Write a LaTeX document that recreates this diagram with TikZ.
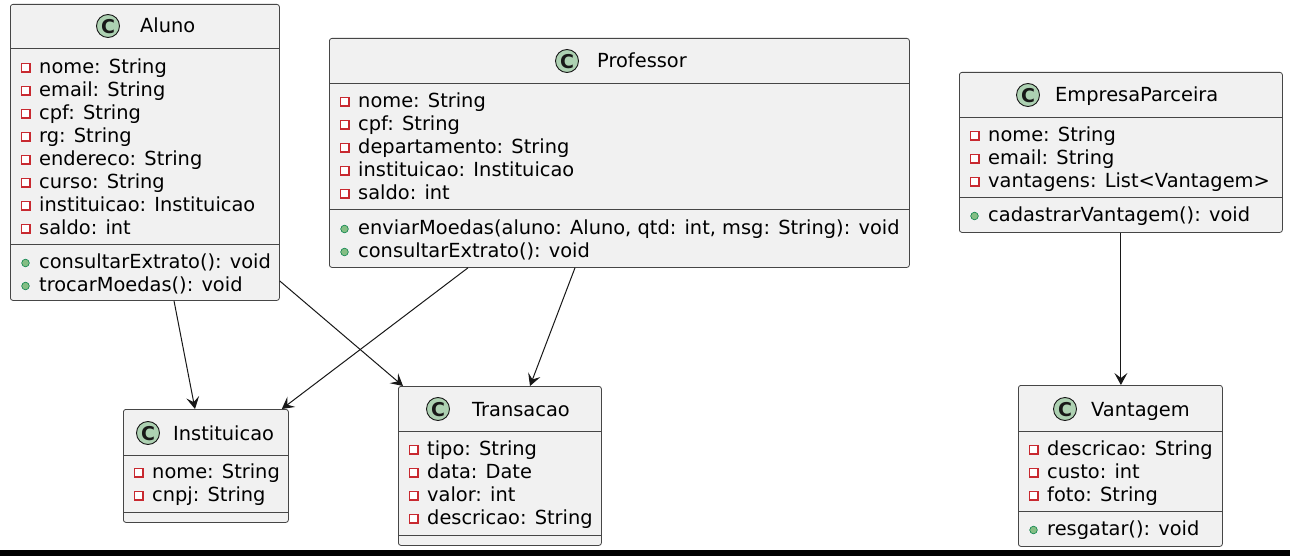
\documentclass[tikz,border=0pt]{standalone}
\usepackage{fontspec}
\setmainfont{DejaVu Sans}
\usetikzlibrary{arrows.meta,calc}
\definecolor{boxfill}{HTML}{F1F1F1}
\definecolor{boxline}{HTML}{181818}
\definecolor{iconfill}{HTML}{ADD1B2}
\definecolor{privred}{HTML}{C82930}
\definecolor{pubfill}{HTML}{84BE84}
\definecolor{publine}{HTML}{038048}
% private member row: name, box left x, row centre y, text
\newcommand{\prow}[4]{%
  \draw[privsq] ({#2+11.5},{#3-3.5}) rectangle ++(8.5,8.5);
  \node[mem] (#1) at ({#2+29},{#3+6.5}) {#4};}
% public member row
\newcommand{\urow}[4]{%
  \draw[pubdot] ({#2+15.5},{#3+1}) circle (3.8);
  \node[mem] (#1) at ({#2+29},{#3+6.5}) {#4};}
% class title: name, icon x, y, title x, text
\newcommand{\ctitle}[5]{%
  \draw[cicon] (#2,#3) circle (11.5);
  \node[cglyph] (#1-c) at (#2,{#3+0.5}) {C};
  \node[mem] (#1) at (#4,{#3+7}) {#5};}
\begin{document}
\begin{tikzpicture}[x=1pt,y=-1pt,
  classbox/.style={draw=boxline!80, fill=boxfill, line width=0.8pt, rounded corners=2.5pt, inner sep=0pt, anchor=north west},
  sepline/.style={draw=boxline!80, line width=0.8pt},
  mem/.style={anchor=base west, inner sep=0pt, font=\fontsize{19.4}{23}\selectfont},
  cglyph/.style={inner sep=0pt, text=boxline, font=\fontsize{19}{19}\selectfont\bfseries},
  cicon/.style={draw=boxline, fill=iconfill, line width=0.9pt},
  privsq/.style={draw=privred, fill=white, line width=1.1pt},
  pubdot/.style={draw=publine, fill=pubfill, line width=0.6pt},
  arr/.style={draw=boxline, line width=1pt, -{Stealth[length=12pt,width=13pt,inset=5pt]}}
]
\fill[white] (0,0) rectangle (1290,556);
\useasboundingbox (0,0) rectangle (1290,556);

% ---------- Aluno ----------
\node[classbox, minimum width=269pt, minimum height=296pt] (aluno) at (10,4) {};
\draw[sepline] (aluno.west |- 0,48) -- (aluno.east |- 0,48);
\draw[sepline] (aluno.west |- 0,244) -- (aluno.east |- 0,244);
\ctitle{alunoT}{108}{26}{140}{Aluno}
\prow{a1}{10}{67}{nome: String}
\prow{a2}{10}{90}{email: String}
\prow{a3}{10}{113}{cpf: String}
\prow{a4}{10}{136}{rg: String}
\prow{a5}{10}{159}{endereco: String}
\prow{a6}{10}{182}{curso: String}
\prow{a7}{10}{205}{instituicao: Instituicao}
\prow{a8}{10}{228}{saldo: int}
\urow{am1}{10}{262}{consultarExtrato(): void}
\urow{am2}{10}{285}{trocarMoedas(): void}

% ---------- Professor ----------
\node[classbox, minimum width=580pt, minimum height=229pt] (prof) at (329,38) {};
\draw[sepline] (prof.west |- 0,83) -- (prof.east |- 0,83);
\draw[sepline] (prof.west |- 0,209) -- (prof.east |- 0,209);
\ctitle{profT}{567}{61}{597}{Professor}
\prow{p1}{329}{101}{nome: String}
\prow{p2}{329}{124}{cpf: String}
\prow{p3}{329}{147}{departamento: String}
\prow{p4}{329}{170}{instituicao: Instituicao}
\prow{p5}{329}{193}{saldo: int}
\urow{pm1}{329}{228}{enviarMoedas(aluno: Aluno, qtd: int, msg: String): void}
\urow{pm2}{329}{251}{consultarExtrato(): void}

% ---------- EmpresaParceira ----------
\node[classbox, minimum width=323pt, minimum height=160pt] (emp) at (959,72) {};
\draw[sepline] (emp.west |- 0,117) -- (emp.east |- 0,117);
\draw[sepline] (emp.west |- 0,197) -- (emp.east |- 0,197);
\ctitle{empT}{1028}{95}{1055}{EmpresaParceira}
\prow{e1}{959}{135}{nome: String}
\prow{e2}{959}{158}{email: String}
\prow{e3}{959}{181}{vantagens: List<Vantagem>}
\urow{em1}{959}{215}{cadastrarVantagem(): void}

% ---------- Vantagem ----------
\node[classbox, minimum width=204pt, minimum height=161pt] (vant) at (1018,385) {};
\draw[sepline] (vant.west |- 0,431) -- (vant.east |- 0,431);
\draw[sepline] (vant.west |- 0,511) -- (vant.east |- 0,511);
\ctitle{vantT}{1065}{409}{1091}{Vantagem}
\prow{v1}{1018}{449}{descricao: String}
\prow{v2}{1018}{472}{custo: int}
\prow{v3}{1018}{495}{foto: String}
\urow{vm1}{1018}{529}{resgatar(): void}

% ---------- Instituicao ----------
\node[classbox, minimum width=165pt, minimum height=113pt] (inst) at (123,409) {};
\draw[sepline] (inst.west |- 0,455) -- (inst.east |- 0,455);
\draw[sepline] (inst.west |- 0,512) -- (inst.east |- 0,512);
\ctitle{instT}{148}{433}{173}{Instituicao}
\prow{i1}{123}{472}{nome: String}
\prow{i2}{123}{495}{cnpj: String}

% ---------- Transacao ----------
\node[classbox, minimum width=203pt, minimum height=159pt] (trans) at (398,386) {};
\draw[sepline] (trans.west |- 0,431) -- (trans.east |- 0,431);
\draw[sepline] (trans.west |- 0,535) -- (trans.east |- 0,535);
\ctitle{transT}{438}{409}{472}{Transacao}
\prow{t1}{398}{449}{tipo: String}
\prow{t2}{398}{472}{data: Date}
\prow{t3}{398}{495}{valor: int}
\prow{t4}{398}{518}{descricao: String}

% ---------- connectors ----------
\draw[arr] ($(aluno.south west)+(164,0)$) -- ($(inst.north west)+(72,0)$);
\draw[arr] ($(aluno.north east)+(0,277)$) -- ($(trans.north west)+(5,0)$);
\draw[arr] ($(prof.south west)+(139,0)$) -- ($(inst.north east)+(-7,0)$);
\draw[arr] ($(prof.south west)+(246,0)$) -- ($(trans.north west)+(132,0)$);
\draw[arr] (emp.south) -- (emp.south |- vant.north);

% bottom bar
\fill[black] (0,550) rectangle (1290,556);
\end{tikzpicture}
\end{document}
